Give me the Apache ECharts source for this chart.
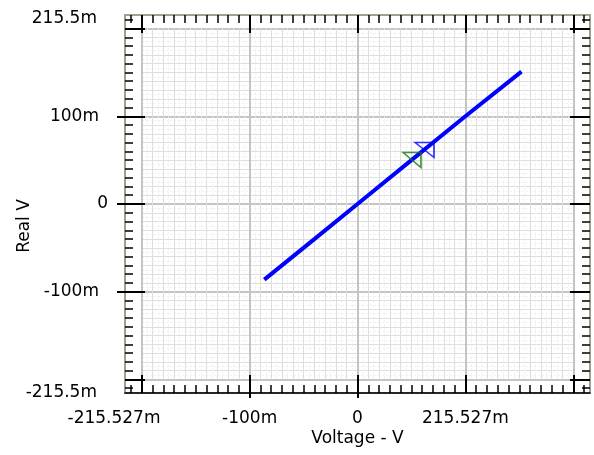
<!DOCTYPE html>
<html><head><meta charset="utf-8">
<script src="https://cdn.jsdelivr.net/npm/echarts@6/dist/echarts.min.js"></script>
<style>html,body{margin:0;padding:0;background:#fff}#c{width:594px;height:455px}</style>
</head><body><div id="c"></div>
<script>
// data (milli-volt units)
const lineVoltage = [-86.4, -40, 0, 50, 100, 152];
const lineReal    = [-86.2, -40, 0, 50, 100, 151];
const markerBlue  = [62.1, 61.6];
const markerGreen = [50.5, 50.2];
const xLabelValues = [-215.527, -100, 0, 100];
const xLabelTexts  = ['-215.527m', '-100m', '0', '215.527m'];
const yLabelValues = [215.5, 100, 0, -100, -215.5];
const yLabelTexts  = ['215.5m', '100m', '0', '-100m', '-215.5m'];
const xTitle = 'Voltage - V';
const yTitle = 'Real V';
const xRange = 215.527, yRange = 215.5, innerRange = 200;

const FONT = 'DejaVu Sans';
const FS = 17;
const minorTicks = []; for (let v = -210; v <= 210; v += 10) minorTicks.push(v);
const majorTicks = [-200, -100, 0, 100, 200];

function lookup(vals, texts, v) {
  for (let i = 0; i < vals.length; i++) if (Math.abs(vals[i] - v) < 1e-6) return texts[i];
  return '';
}
function tickAxis(gridIndex, pos, min, max, values, len, width) {
  return { type: 'value', gridIndex, position: pos, min, max,
    axisLine: { show: false, onZero: false },
    axisTick: { show: true, inside: true, length: len, customValues: values, lineStyle: { color: '#000', width } },
    axisLabel: { show: false }, splitLine: { show: false } };
}
function gridAxis(pos, interval, color, width, minor) {
  const a = { type: 'value', gridIndex: 1, position: pos, min: -innerRange, max: innerRange, interval,
    axisLine: { show: false, onZero: false }, axisTick: { show: false }, axisLabel: { show: false },
    splitLine: { show: true, showMinLine: true, showMaxLine: true, lineStyle: { color, width } } };
  if (minor) {
    a.minorTick = { show: false, splitNumber: 2 };
    a.minorSplitLine = { show: true, lineStyle: { color: '#efefef', width: 1, type: [2, 2] } };
  }
  return a;
}

const xAxes = [
  { type: 'value', gridIndex: 0, position: 'bottom', min: -xRange, max: xRange,
    axisLine: { show: true, onZero: false, lineStyle: { color: '#000', width: 1.5 } },
    axisTick: { show: true, inside: false, length: 5, customValues: [-100, 0], lineStyle: { color: '#000', width: 2 } },
    axisLabel: { show: true, customValues: xLabelValues, margin: 17, color: '#000', fontFamily: FONT, fontSize: FS,
      formatter: v => { const t = lookup(xLabelValues, xLabelTexts, v); return v < -200 ? '{l|' + t + '}' : t; },
      rich: { l: { padding: [0, 22, 0, 0], fontFamily: FONT, fontSize: FS, color: '#000' } } },
    splitLine: { show: false },
    name: xTitle, nameLocation: 'middle', nameGap: 37, nameMoveOverlap: false,
    nameTextStyle: { color: '#000', fontFamily: FONT, fontSize: FS } },
  tickAxis(0, 'bottom', -xRange, xRange, minorTicks, 8, 1.5),
  tickAxis(0, 'bottom', -xRange, xRange, majorTicks, 18, 2),
  tickAxis(0, 'top', -xRange, xRange, minorTicks, 8, 1.5),
  tickAxis(0, 'top', -xRange, xRange, majorTicks, 18, 2),
  gridAxis('bottom', 10, '#dedede', 1, true),
  gridAxis('bottom', 100, '#c4c4c4', 2, false)
];
const yAxes = [
  { type: 'value', gridIndex: 0, position: 'left', min: -yRange, max: yRange,
    axisLine: { show: false, onZero: false },
    axisTick: { show: true, inside: false, length: 8, customValues: [-100, 0, 100], lineStyle: { color: '#000', width: 2 } },
    axisLabel: { show: true, customValues: yLabelValues, margin: 17, color: '#000', fontFamily: FONT, fontSize: FS,
      formatter: v => { const t = lookup(yLabelValues, yLabelTexts, v);
        if (v > 200) return '{t|' + t + '}';
        if (v === 0) return t;
        if (v < -200) return '{b|' + t + '}';
        return '{m|' + t + '}'; },
      rich: { t: { padding: [7, 11, 0, 0], fontFamily: FONT, fontSize: FS, color: '#000' },
              b: { padding: [0, 11, 0, 0], fontFamily: FONT, fontSize: FS, color: '#000' },
              m: { padding: [0, 9, 0, 0], fontFamily: FONT, fontSize: FS, color: '#000' } } },
    splitLine: { show: false },
    name: yTitle, nameLocation: 'middle', nameGap: 92, nameMoveOverlap: false,
    nameTextStyle: { color: '#000', fontFamily: FONT, fontSize: FS, padding: [0, 44, 0, 0] } },
  tickAxis(0, 'left', -yRange, yRange, minorTicks, 8, 1.5),
  tickAxis(0, 'left', -yRange, yRange, majorTicks, 20, 2),
  tickAxis(0, 'right', -yRange, yRange, minorTicks, 8, 1.5),
  tickAxis(0, 'right', -yRange, yRange, majorTicks, 20, 2),
  gridAxis('left', 10, '#dedede', 1, true),
  gridAxis('left', 100, '#c4c4c4', 2, false)
];

const chart = echarts.init(document.getElementById('c'), null, { renderer: 'canvas' });
chart.setOption({
  animation: false,
  backgroundColor: '#fff',
  grid: [
    { left: 125, top: 15, width: 465, height: 378, show: true, borderColor: '#a39f93', borderWidth: 2, backgroundColor: 'transparent', containLabel: false, outerBoundsMode: 'none' },
    { left: 141.75, top: 28.59, width: 431.5, height: 350.81, show: false, containLabel: false, outerBoundsMode: 'none' }
  ],
  xAxis: xAxes,
  yAxis: yAxes,
  series: [
    { type: 'line', xAxisIndex: 0, yAxisIndex: 0, showSymbol: false, z: 5,
      data: lineVoltage.map((x, i) => [x, lineReal[i]]),
      lineStyle: { color: '#0000ff', width: 4 } },
    { type: 'scatter', xAxisIndex: 0, yAxisIndex: 0, z: 6,
      symbol: 'path://M0,0L20,0L20,16Z', symbolSize: [18, 15],
      data: [markerGreen],
      itemStyle: { color: 'rgba(255,255,255,0)', borderColor: '#0a7a0a', borderWidth: 1.5 } },
    { type: 'scatter', xAxisIndex: 0, yAxisIndex: 0, z: 6,
      symbol: 'path://M0,0L20,0L20,16Z', symbolSize: [19, 15],
      data: [markerBlue],
      itemStyle: { color: 'rgba(255,255,255,0)', borderColor: '#0000ff', borderWidth: 1.5 } }
  ]
});
</script>
</body></html>
